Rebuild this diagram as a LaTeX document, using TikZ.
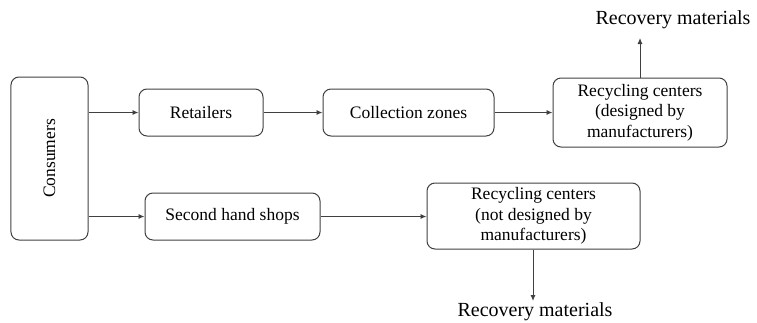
\documentclass[tikz,border=0pt]{standalone}
\usepackage{fontspec}
\setmainfont{Liberation Serif}
\usetikzlibrary{arrows.meta}
\definecolor{edge}{HTML}{404040}
\tikzset{
  box/.style={draw=edge, line width=1bp, rounded corners=8bp, align=center, inner sep=0pt,
    font=\fontsize{17.5bp}{20.5bp}\selectfont},
  conn/.style={draw=edge, line width=0.9bp, -{Latex[length=6bp,width=5bp]}},
  lbl/.style={inner sep=0pt, font=\fontsize{20bp}{24bp}\selectfont}
}
\begin{document}
\begin{tikzpicture}[x=1bp,y=-1bp]
\useasboundingbox (0,0) rectangle (757,322);
\node[box, minimum width=77bp, minimum height=163bp] (cons) at (49.5,158.5) {\rotatebox{90}{Consumers}};
\node[box, minimum width=124bp, minimum height=47bp] (ret) at (201,112.5) {Retailers};
\node[box, minimum width=171bp, minimum height=47bp] (col) at (408.5,112.5) {Collection zones};
\node[box, minimum width=174bp, minimum height=69bp] (rc1) at (640,112.5) {Recycling centers\\(designed by\\manufacturers)};
\node[box, minimum width=175bp, minimum height=47bp] (shs) at (232.5,216.5) {Second hand shops};
\node[box, minimum width=213bp, minimum height=66bp] (rc2) at (533.5,216) {Recycling centers\\(not designed by\\manufacturers)};
\node[lbl] (rm1) at (673,20) {Recovery materials};
\node[lbl, anchor=base] (rm2) at (535,316.5) {Recovery materials};
\coordinate (t1) at (640,38);
\coordinate (t2) at (533,301);
\draw[conn] (cons.east |- ret) -- (ret.west);
\draw[conn] (cons.east |- shs) -- (shs.west);
\draw[conn] (ret) -- (col);
\draw[conn] (col) -- (rc1);
\draw[conn] (shs) -- (rc2.west |- shs);
\draw[conn] (rc1.north) -- (t1);
\draw[conn] (rc2.south -| t2) -- (t2);
\end{tikzpicture}
\end{document}
